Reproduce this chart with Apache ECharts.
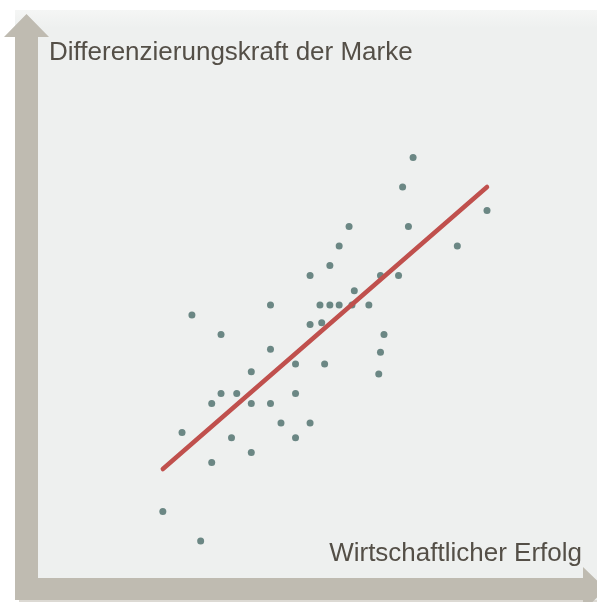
<!DOCTYPE html>
<html>
<head>
<meta charset="utf-8">
<script src="https://cdn.jsdelivr.net/npm/echarts@6/dist/echarts.min.js"></script>
<style>
  html, body { margin: 0; padding: 0; background: #fff; }
  #chart { width: 597px; height: 602px; }
</style>
</head>
<body>
<div id="chart"></div>
<script>
// Wirtschaftlicher Erfolg (x) vs. Differenzierungskraft der Marke (y), Skala 0-10
var erfolg = [
  6.84, 6.66, 8.11, 5.74, 6.76, 5.57, 7.60, 5.41, 5.07, 6.28, 6.59,
  5.83, 4.39, 5.24, 5.41, 5.57, 5.79, 6.08, 3.04, 5.07, 5.27, 3.54,
  6.34, 6.28, 4.39, 4.06, 4.82, 5.32, 6.25, 3.54, 3.81, 4.82, 3.38,
  4.06, 4.39, 4.57, 5.07, 2.87, 3.72, 4.82, 4.06, 3.38, 2.54, 3.19
];
var differenzierung = [
  7.50, 7.00, 6.60, 6.33, 6.33, 6.00, 6.00, 5.67, 5.50, 5.50, 5.50,
  5.24, 5.00, 5.00, 5.00, 5.00, 5.00, 5.00, 4.83, 4.67, 4.70, 4.50,
  4.50, 4.20, 4.25, 3.87, 4.00, 4.00, 3.83, 3.50, 3.50, 3.50, 3.33,
  3.33, 3.33, 3.00, 3.00, 2.84, 2.75, 2.75, 2.50, 2.33, 1.50, 1.00
];
// Trendlinie: Anfangs- und Endpunkt
var trendX = [2.54, 8.11];
var trendY = [2.22, 7.00];

var yLabel = "Differenzierungskraft der Marke";
var xLabel = "Wirtschaftlicher Erfolg";

var chart = echarts.init(document.getElementById("chart"));

var arrowColor = "#bfbbb1";
var textColor = "#544f47";
var font = '26px "Liberation Sans", Arial, sans-serif';

var option = {
  animation: false,
  grid: {
    left: 15,
    right: 0,
    top: 10,
    bottom: 2,
    show: true,
    borderWidth: 0,
    backgroundColor: {
      type: "linear", x: 0, y: 0, x2: 0, y2: 1,
      colorStops: [
        { offset: 0, color: "#f5f6f5" },
        { offset: 0.03, color: "#eef0ef" },
        { offset: 1, color: "#eef0ef" }
      ]
    }
  },
  xAxis: { type: "value", min: 0, max: 10, show: false },
  yAxis: { type: "value", min: 0, max: 10, show: false },
  graphic: [
    // Schatten unten
    { type: "rect", z: 1, shape: { x: 19, y: 600, width: 578, height: 2 }, style: { fill: "#dcd9d3" } },
    // Pfeil senkrecht
    {
      type: "polygon", z: 2,
      shape: { points: [[15, 600], [15, 37], [4, 37], [26.5, 14], [49, 37], [38, 37], [38, 600]] },
      style: { fill: arrowColor }
    },
    // Pfeil waagerecht
    {
      type: "polygon", z: 2,
      shape: { points: [[15, 578], [583, 578], [583, 567], [606, 589], [583, 611], [583, 600], [15, 600]] },
      style: { fill: arrowColor }
    },
    {
      type: "text", z: 3,
      style: { x: 49, y: 53, text: yLabel, font: font, fill: textColor, textAlign: "left", textVerticalAlign: "middle" }
    },
    {
      type: "text", z: 3,
      style: { x: 582, y: 554, text: xLabel, font: font, fill: textColor, textAlign: "right", textVerticalAlign: "middle" }
    }
  ],
  series: [
    {
      type: "scatter",
      data: erfolg.map(function (v, i) { return [v, differenzierung[i]]; }),
      symbolSize: 7,
      itemStyle: { color: "#6b8784", opacity: 1 },
      z: 3
    },
    {
      type: "line",
      data: trendX.map(function (v, i) { return [v, trendY[i]]; }),
      symbol: "none",
      lineStyle: { color: "#c0504d", width: 4.5, cap: "round" },
      z: 4
    }
  ]
};

chart.setOption(option);
</script>
</body>
</html>
